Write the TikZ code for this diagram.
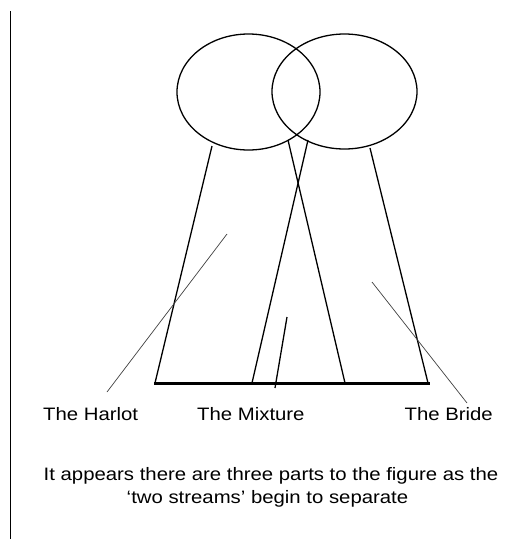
\documentclass[tikz,border=0pt]{standalone}
\usepackage{fontspec}
\setmainfont{Liberation Sans}[FakeStretch=1.13]
\usetikzlibrary{shapes.geometric}
\begin{document}
\begin{tikzpicture}[x=1pt,y=-1pt,
  shape line/.style={line width=1.3pt},
  pointer/.style={line width=0.7pt, black!75},
  lbl/.style={inner sep=0pt, font=\fontsize{18}{20}\selectfont}]
\useasboundingbox (0,0) rectangle (512,539);
% vertical margin line
\coordinate (vt) at (10.5,11);
\coordinate (vb) at (10.5,539);
\draw[line width=1.5pt] (vt) -- (vb);
% ellipses
\node[draw, shape line, ellipse, minimum width=143, minimum height=116, inner sep=0pt] (le) at (248.5,92) {};
\node[draw, shape line, ellipse, minimum width=145, minimum height=115, inner sep=0pt] (re) at (344.5,91.5) {};
% stream lines
\coordinate (l1) at (212,146);
\coordinate (l2) at (155,383);
\coordinate (a1) at (288,140);
\coordinate (a2) at (345,383);
\coordinate (b1) at (308,140);
\coordinate (b2) at (252,383);
\coordinate (r1) at (370,148);
\coordinate (r2) at (428,383);
\draw[shape line] (l1) -- (l2);
\draw[shape line] (a1) -- (a2);
\draw[shape line] (b1) -- (b2);
\draw[shape line] (r1) -- (r2);
% base
\coordinate (bl) at (154,383);
\coordinate (br) at (430,383);
\draw[line width=3pt] (bl) -- (br);
% small mixture pointer
\coordinate (m1) at (287,317);
\coordinate (m2) at (275,388);
\draw[shape line] (m1) -- (m2);
% harlot and bride pointers
\coordinate (h1) at (227,234);
\coordinate (h2) at (107,392);
\draw[pointer] (h1) -- (h2);
\coordinate (s1) at (372,282);
\coordinate (s2) at (467,403);
\draw[pointer] (s1) -- (s2);
% labels
\node[lbl, anchor=base west] (harlot) at (43,420) {The Harlot};
\node[lbl, anchor=base west] (mixture) at (197,420) {The Mixture};
\node[lbl, anchor=base east] (bride) at (493,420) {The Bride};
\node[lbl, anchor=base] (cap1) at (271,480) {It appears there are three parts to the figure as the};
\node[lbl, anchor=base] (cap2) at (267.5,503) {`two streams' begin to separate};
\end{tikzpicture}
\end{document}
